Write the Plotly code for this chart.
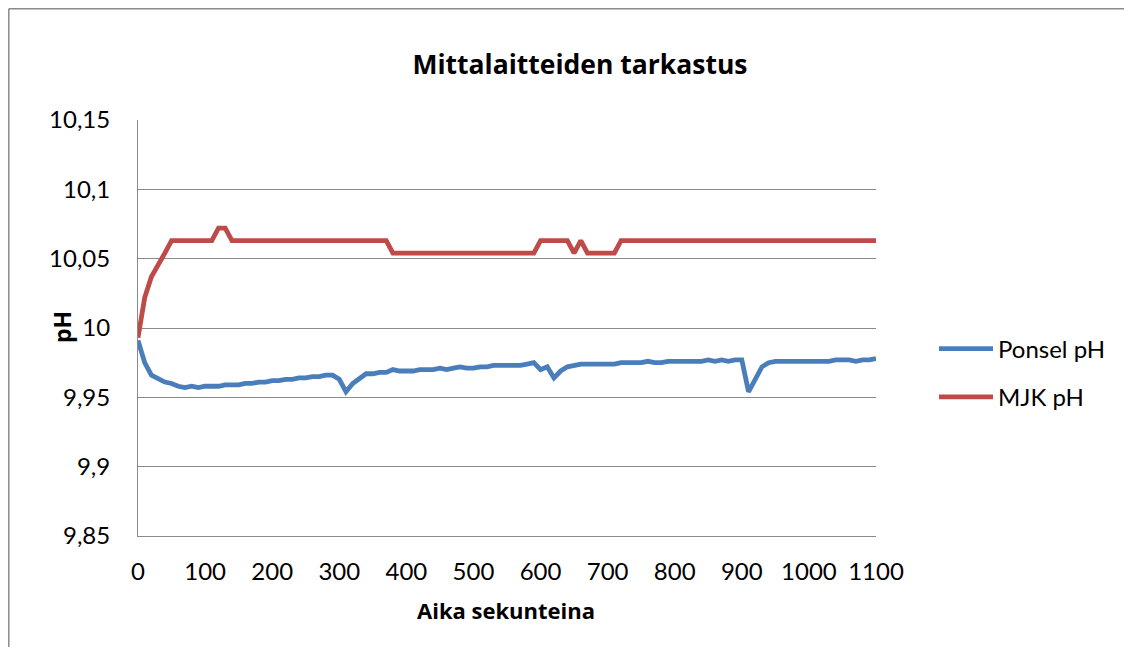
import plotly.graph_objects as go

# time in seconds (one reading every 10 s)
aika = [
    0, 10, 20, 30, 40, 50, 60, 70, 80, 90,
    100, 110, 120, 130, 140, 150, 160, 170, 180, 190,
    200, 210, 220, 230, 240, 250, 260, 270, 280, 290,
    300, 310, 320, 330, 340, 350, 360, 370, 380, 390,
    400, 410, 420, 430, 440, 450, 460, 470, 480, 490,
    500, 510, 520, 530, 540, 550, 560, 570, 580, 590,
    600, 610, 620, 630, 640, 650, 660, 670, 680, 690,
    700, 710, 720, 730, 740, 750, 760, 770, 780, 790,
    800, 810, 820, 830, 840, 850, 860, 870, 880, 890,
    900, 910, 920, 930, 940, 950, 960, 970, 980, 990,
    1000, 1010, 1020, 1030, 1040, 1050, 1060, 1070, 1080, 1090,
    1100,
]

ponsel_ph = [
    9.991, 9.975, 9.966, 9.963, 9.961, 9.960, 9.958, 9.957, 9.958, 9.957,
    9.958, 9.958, 9.958, 9.959, 9.959, 9.959, 9.960, 9.960, 9.961, 9.961,
    9.962, 9.962, 9.963, 9.963, 9.964, 9.964, 9.965, 9.965, 9.966, 9.966,
    9.963, 9.954, 9.960, 9.964, 9.967, 9.967, 9.968, 9.968, 9.970, 9.969,
    9.969, 9.969, 9.970, 9.970, 9.970, 9.971, 9.970, 9.971, 9.972, 9.971,
    9.971, 9.972, 9.972, 9.973, 9.973, 9.973, 9.973, 9.973, 9.974, 9.975,
    9.970, 9.972, 9.964, 9.969, 9.972, 9.973, 9.974, 9.974, 9.974, 9.974,
    9.974, 9.974, 9.975, 9.975, 9.975, 9.975, 9.976, 9.975, 9.975, 9.976,
    9.976, 9.976, 9.976, 9.976, 9.976, 9.977, 9.976, 9.977, 9.976, 9.977,
    9.977, 9.954, 9.963, 9.972, 9.975, 9.976, 9.976, 9.976, 9.976, 9.976,
    9.976, 9.976, 9.976, 9.976, 9.977, 9.977, 9.977, 9.976, 9.977, 9.977,
    9.978,
]

mjk_ph = [
    9.993, 10.022, 10.037, 10.045, 10.054, 10.063, 10.063, 10.063, 10.063, 10.063,
    10.063, 10.063, 10.072, 10.072, 10.063, 10.063, 10.063, 10.063, 10.063, 10.063,
    10.063, 10.063, 10.063, 10.063, 10.063, 10.063, 10.063, 10.063, 10.063, 10.063,
    10.063, 10.063, 10.063, 10.063, 10.063, 10.063, 10.063, 10.063, 10.054, 10.054,
    10.054, 10.054, 10.054, 10.054, 10.054, 10.054, 10.054, 10.054, 10.054, 10.054,
    10.054, 10.054, 10.054, 10.054, 10.054, 10.054, 10.054, 10.054, 10.054, 10.054,
    10.063, 10.063, 10.063, 10.063, 10.063, 10.054, 10.063, 10.054, 10.054, 10.054,
    10.054, 10.054, 10.063, 10.063, 10.063, 10.063, 10.063, 10.063, 10.063, 10.063,
    10.063, 10.063, 10.063, 10.063, 10.063, 10.063, 10.063, 10.063, 10.063, 10.063,
    10.063, 10.063, 10.063, 10.063, 10.063, 10.063, 10.063, 10.063, 10.063, 10.063,
    10.063, 10.063, 10.063, 10.063, 10.063, 10.063, 10.063, 10.063, 10.063, 10.063,
    10.063,
]

y_ticks = [9.85, 9.9, 9.95, 10.0, 10.05, 10.1, 10.15]
y_labels = ["9,85", "9,9", "9,95", "10", "10,05", "10,1", "10,15"]
x_ticks = [0, 100, 200, 300, 400, 500, 600, 700, 800, 900, 1000, 1100]

FONT = "Lato, 'Open Sans', sans-serif"
BOLD = "'Open Sans', Lato, sans-serif"
GRID = "#8a8a8a"

fig = go.Figure()
fig.add_trace(go.Scatter(
    x=aika, y=ponsel_ph, mode="lines", name="Ponsel pH", legendgroup="a",
    line=dict(color="#4a7ebb", width=4.8),
))
fig.add_trace(go.Scatter(
    x=aika, y=mjk_ph, mode="lines", name="MJK pH", legendgroup="b",
    line=dict(color="#be4b48", width=4.8),
))

# page has an 8px body margin on every side; keep the figure small enough
# that the browser shows no scrollbars
W, H = 1116, 639
# plot area in figure pixels: x 130..868, y 112..528
L, T = 130, 112
R, B = W - 868, H - 528
pw, ph = 868 - L, 528 - T


def px(x):
    return (x - L) / pw


def py(y):
    return (528 - y) / ph


fig.update_layout(
    width=W, height=H,
    margin=dict(l=L, r=R, t=T, b=B, pad=0, autoexpand=False),
    paper_bgcolor="white", plot_bgcolor="white",
    font=dict(family=FONT, size=24, color="#000000"),
    title=dict(
        text="<b>Mittalaitteiden tarkastus</b>",
        x=572 / W, xref="container", xanchor="center",
        y=1 - 57 / H, yref="container", yanchor="middle",
        font=dict(size=26.5, family=BOLD),
    ),
    showlegend=True,
    legend=dict(
        x=px(926), xanchor="left",
        y=py(365), yanchor="middle",
        traceorder="grouped", tracegroupgap=14,
        itemwidth=54,
        font=dict(size=24, family=FONT),
        bgcolor="rgba(0,0,0,0)",
    ),
    xaxis=dict(
        range=[0, 1100], tickvals=x_ticks, ticks="",
        showgrid=False, zeroline=False,
        showline=True, linecolor=GRID, linewidth=1,
        ticklabelstandoff=14,
    ),
    yaxis=dict(
        range=[9.85, 10.15], tickvals=y_ticks, ticktext=y_labels, ticks="",
        showgrid=True, gridcolor=GRID, gridwidth=1, zeroline=False,
        showline=True, linecolor=GRID, linewidth=1,
        ticklabelstandoff=22,
    ),
    annotations=[
        dict(text="<b>Aika sekunteina</b>", xref="paper", yref="paper",
             x=px(498), y=py(602), xanchor="center", yanchor="middle",
             showarrow=False, font=dict(size=22, family=BOLD)),
        dict(text="<b>pH</b>", xref="paper", yref="paper",
             x=px(54), y=py(319), xanchor="center", yanchor="middle",
             textangle=-90, showarrow=False, font=dict(size=23, family=BOLD)),
    ],
    shapes=[
        # outer chart border: only its top and left edges are in the picture
        dict(type="line", xref="paper", yref="paper",
             x0=px(0.8), x1=px(0.8), y0=py(H + 20), y1=py(0.8),
             line=dict(color="#8a8a8a", width=1.5), layer="below"),
        dict(type="line", xref="paper", yref="paper",
             x0=px(0.8), x1=px(W + 20), y0=py(0.8), y1=py(0.8),
             line=dict(color="#8a8a8a", width=1.5), layer="below"),
    ],
)

fig.write_html("out.html")
